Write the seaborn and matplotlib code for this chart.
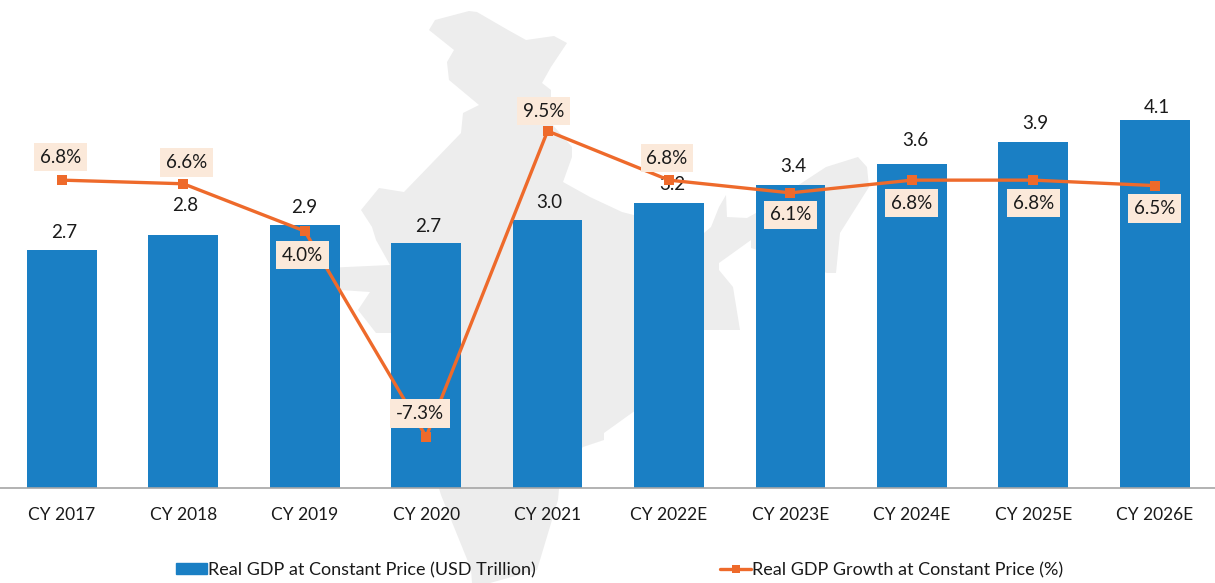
import pandas as pd
import matplotlib
matplotlib.use("Agg")
import matplotlib.pyplot as plt
import seaborn as sns
from matplotlib.lines import Line2D
from matplotlib.patches import Patch

# Chart data
years = ["CY 2017", "CY 2018", "CY 2019", "CY 2020", "CY 2021",
         "CY 2022E", "CY 2023E", "CY 2024E", "CY 2025E", "CY 2026E"]
gdp = [2.65, 2.82, 2.93, 2.73, 2.99, 3.18, 3.38, 3.61, 3.86, 4.10]
gdp_labels = ["2.7", "2.8", "2.9", "2.7", "3.0", "3.2", "3.4", "3.6", "3.9", "4.1"]
growth = [6.8, 6.6, 4.0, -7.3, 9.5, 6.8, 6.1, 6.8, 6.8, 6.5]
growth_labels = ["6.8%", "6.6%", "4.0%", "-7.3%", "9.5%", "6.8%", "6.1%", "6.8%", "6.8%", "6.5%"]

# Label offsets from the marks, in pixels
gdp_dy = [18, 30, 18, 17, 17, 18, 18, 24, 18, 13]
gdp_dx = [2, 2, -1, 2, 2, 3, 3, 3, 2, 2]
growth_dx = [-1, 3, -2, -6, -4, -2, 0, 0, 0, 0]
growth_dy = [23, 21, -24, 23, 20, 22, -22, -23, -23, -23]

# Background map outline, in image pixels
map_outline = [(469, 11), (477, 12), (508, 30), (526, 40), (554, 36), (567, 43), (551, 67),
               (542, 83), (551, 90), (551, 123), (572, 147), (572, 157), (563, 182), (590, 197),
               (622, 212), (704, 233), (711, 227), (719, 207), (726, 195), (727, 217), (747, 218),
               (756, 213), (826, 167), (858, 157), (867, 167), (869, 187), (840, 233), (836, 273),
               (827, 273), (751, 248), (751, 240), (733, 253), (719, 263), (719, 270), (733, 287),
               (740, 330), (704, 330), (636, 410), (604, 433), (604, 440), (583, 447), (561, 467),
               (558, 500), (537, 570), (490, 583), (472, 583), (471, 569), (441, 495), (392, 333),
               (376, 333), (358, 310), (370, 292), (340, 290), (325, 285), (325, 268), (390, 265),
               (376, 240), (372, 227), (361, 210), (379, 188), (404, 192), (461, 133), (463, 113),
               (479, 105), (449, 80), (447, 62), (454, 50), (429, 30), (435, 20)]

BLUE = "#1A7FC4"
ORANGE = "#EE6A2B"
BOX = "#FBE9DA"
TEXT = "#1A1A1A"

sns.set_style("white")
plt.rcParams["font.family"] = ["Lato", "DejaVu Sans"]
plt.rcParams["font.size"] = 13

df = pd.DataFrame({"year": years, "gdp": gdp, "growth": growth})

fig = plt.figure(figsize=(12.15, 5.83), dpi=100)

# Map sits behind everything
bg = fig.add_axes([0, 0, 1, 1], zorder=0)
bg.set_xlim(0, 1215)
bg.set_ylim(583, 0)
bg.axis("off")
bg.fill(*zip(*map_outline), color="#EDEDED", lw=0)

base = 488 / 583
ax = fig.add_axes([0, 1 - base, 1, base], zorder=1)
ax.patch.set_alpha(0)

sns.barplot(data=df, x="year", y="gdp", color=BLUE, width=0.575, saturation=1, linewidth=0, ax=ax)
ax.set_xlim(-0.51, 9.497)
ax.set_ylim(0, 5.44)
ax.set_xlabel("")
ax.set_ylabel("")
ax.set_yticks([])
ax.tick_params(axis="x", length=0, pad=13.5, labelsize=12.5, labelcolor=TEXT)
sns.despine(ax=ax, left=True)
ax.spines["bottom"].set_color("#A6A6A6")
ax.spines["bottom"].set_linewidth(1.2)

for i, v in enumerate(gdp):
    ax.annotate(gdp_labels[i], (i, v), xytext=(gdp_dx[i], gdp_dy[i]), textcoords="offset pixels",
                ha="center", va="center", fontsize=13.5, color=TEXT)

ax2 = ax.twinx()
ax2.patch.set_alpha(0)
sns.lineplot(data=df, x="year", y="growth", sort=False, color=ORANGE, lw=2.4,
             marker="s", markersize=6.5, markeredgewidth=0, ax=ax2)
ax2.set_ylim(-10.12, 16.7)
ax2.set_ylabel("")
ax2.set_yticks([])
sns.despine(ax=ax2, left=True, right=True, top=True, bottom=True)

for i, v in enumerate(growth):
    ax2.annotate(growth_labels[i], (i, v), xytext=(growth_dx[i], growth_dy[i]), textcoords="offset pixels",
                 ha="center", va="center", fontsize=13.5, color=TEXT,
                 bbox=dict(boxstyle="square,pad=0.31", fc=BOX, ec="none"))

handles = [Patch(color=BLUE, label="Real GDP at Constant Price (USD Trillion)"),
           Line2D([0], [0], color=ORANGE, lw=2.4, marker="s", markersize=6, markeredgewidth=0,
                  label="Real GDP Growth at Constant Price (%)")]
fig.legend(handles=handles, ncol=2, frameon=False, fontsize=13, labelcolor=TEXT,
           loc="center left", bbox_to_anchor=(176 / 1215, 1 - 570 / 583), borderpad=0, borderaxespad=0,
           handlelength=1.7, handleheight=0.55, handletextpad=0.05, columnspacing=10.25)

fig.savefig("out.png", dpi=100)
